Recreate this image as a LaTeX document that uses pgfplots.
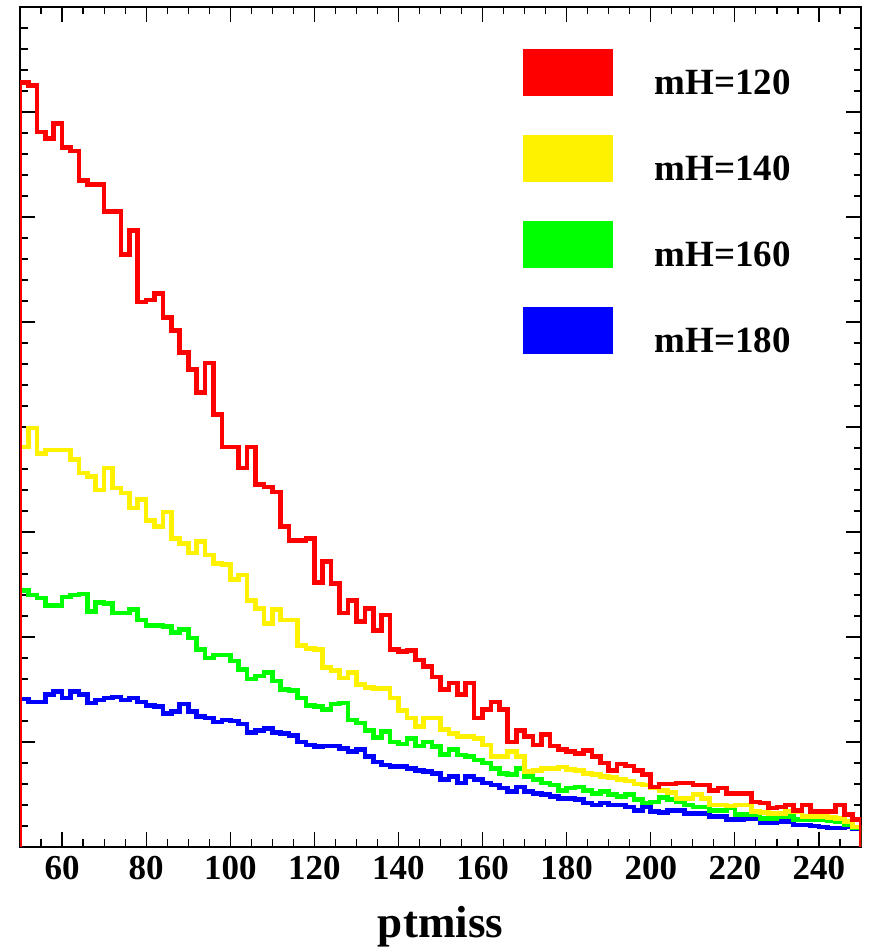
\documentclass[border=0pt]{standalone}
\usepackage{fontspec}
\setmainfont{Liberation Serif}
\usepackage{pgfplots}
\usepackage{pgfplotstable}
\pgfplotsset{compat=1.18}

\pgfplotstableread{
x red yel grn blu
50 0 0 0 0
50 7.28 3.81 2.44 1.41
52 7.25 3.99 2.40 1.38
54 6.81 3.75 2.37 1.38
56 6.75 3.78 2.30 1.45
58 6.89 3.78 2.30 1.48
60 6.66 3.78 2.38 1.42
62 6.63 3.69 2.40 1.48
64 6.35 3.56 2.41 1.45
66 6.31 3.53 2.24 1.37
68 6.31 3.40 2.33 1.40
70 6.05 3.61 2.32 1.42
72 6.05 3.42 2.23 1.43
74 5.64 3.37 2.23 1.40
76 5.87 3.23 2.26 1.42
78 5.19 3.31 2.16 1.38
80 5.21 3.11 2.11 1.35
82 5.27 3.05 2.11 1.34
84 5.04 3.19 2.10 1.27
86 4.92 2.94 2.04 1.29
88 4.71 2.89 2.07 1.36
90 4.55 2.80 1.99 1.29
92 4.33 2.91 1.88 1.24
94 4.61 2.78 1.80 1.23
96 4.12 2.70 1.83 1.19
98 3.81 2.69 1.83 1.21
100 3.81 2.55 1.77 1.20
102 3.61 2.59 1.69 1.17
104 3.81 2.35 1.60 1.09
106 3.45 2.27 1.63 1.11
108 3.43 2.13 1.66 1.13
110 3.38 2.26 1.58 1.09
112 3.05 2.16 1.50 1.08
114 2.92 2.16 1.49 1.06
116 2.92 1.92 1.42 1.00
118 2.94 1.89 1.35 0.97
120 2.52 1.88 1.34 0.955
122 2.72 1.71 1.31 0.96
124 2.51 1.68 1.36 0.96
126 2.23 1.61 1.37 0.94
128 2.35 1.66 1.21 0.91
130 2.15 1.55 1.18 0.93
132 2.27 1.52 1.11 0.86
134 2.06 1.51 1.04 0.81
136 2.21 1.51 1.10 0.78
138 1.88 1.42 1.00 0.765
140 1.86 1.30 0.98 0.765
142 1.87 1.23 1.035 0.75
144 1.78 1.15 0.96 0.73
146 1.72 1.23 1.00 0.72
148 1.62 1.23 0.955 0.70
150 1.50 1.12 0.88 0.64
152 1.56 1.08 0.93 0.67
154 1.45 1.05 0.876 0.61
156 1.56 1.05 0.86 0.67
158 1.23 1.035 0.83 0.64
160 1.31 0.97 0.80 0.61
162 1.38 0.86 0.75 0.59
164 1.31 0.86 0.70 0.56
166 1.00 0.91 0.69 0.53
168 1.11 0.86 0.75 0.57
170 1.05 0.72 0.67 0.53
172 0.97 0.73 0.64 0.51
174 1.07 0.75 0.61 0.50
176 0.96 0.75 0.59 0.48
178 0.93 0.76 0.54 0.46
180 0.91 0.74 0.56 0.46
182 0.89 0.73 0.57 0.45
184 0.92 0.70 0.54 0.42
186 0.86 0.69 0.51 0.40
188 0.80 0.67 0.53 0.42
190 0.73 0.66 0.50 0.40
192 0.79 0.64 0.48 0.40
194 0.77 0.63 0.50 0.38
196 0.73 0.60 0.45 0.35
198 0.69 0.59 0.42 0.38
200 0.57 0.56 0.43 0.34
202 0.60 0.54 0.47 0.33
204 0.60 0.52 0.45 0.35
206 0.61 0.46 0.43 0.35
208 0.61 0.46 0.40 0.32
210 0.59 0.50 0.38 0.32
212 0.59 0.46 0.38 0.32
214 0.54 0.40 0.35 0.29
216 0.56 0.40 0.35 0.29
218 0.51 0.39 0.37 0.26
220 0.51 0.40 0.31 0.26
222 0.51 0.40 0.31 0.27
224 0.43 0.34 0.31 0.27
226 0.42 0.33 0.27 0.23
228 0.37 0.32 0.27 0.23
230 0.38 0.32 0.29 0.24
232 0.40 0.34 0.29 0.24
234 0.35 0.34 0.26 0.21
236 0.40 0.29 0.26 0.21
238 0.34 0.29 0.26 0.20
240 0.34 0.29 0.26 0.19
242 0.34 0.28 0.25 0.18
244 0.40 0.27 0.24 0.18
246 0.31 0.24 0.21 0.19
248 0.26 0.19 0.18 0.17
250 0 0 0 0
}\hist

\begin{document}
\begin{tikzpicture}
\begin{axis}[
  name=ax,
  scale only axis, width=420.5pt, height=420pt,
  xmin=50, xmax=250, ymin=0, ymax=8,
  xtick={60,80,...,240},
  minor xtick={50,55,...,250},
  ytick={0,1,...,8}, yticklabels={},
  minor ytick={0,0.2,...,8},
  tick align=inside,
  major tick length=7.5pt, minor tick length=3.75pt,
  tick style={line width=0.6pt, black},
  axis line style={line width=1pt},
  /pgf/number format/assume math mode=true,
  xticklabel style={font=\bfseries\fontsize{17.5}{20}\selectfont, yshift=-1pt},
  xlabel={ptmiss},
  xlabel style={font=\bfseries\fontsize{22.5}{27}\selectfont, at={(axis description cs:0.5,0)}, anchor=base, yshift=-45pt},
  legend style={draw=none, fill=none, at={(0.598,0.95)}, anchor=north west,
    inner sep=0pt, outer sep=0pt, row sep=19pt, column sep=21pt,
    font=\bfseries\fontsize{18.5}{22}\selectfont,
    nodes={inner sep=0pt, outer sep=0pt}},
  legend cell align=left,
  reverse legend,
  legend image code/.code={\fill[#1] (0pt,-5pt) rectangle (42.5pt,16pt);},
  every axis plot/.append style={line width=2.3pt, const plot mark left},
]
\addplot[blue, no marks] table[x=x, y=blu] {\hist};
\addlegendentry{mH=180}
\addplot[green, no marks] table[x=x, y=grn] {\hist};
\addlegendentry{mH=160}
\addplot[yellow, no marks] table[x=x, y=yel] {\hist};
\addlegendentry{mH=140}
\addplot[red, no marks] table[x=x, y=red] {\hist};
\addlegendentry{mH=120}
\end{axis}
\pgfresetboundingbox
\path[use as bounding box] ([shift={(-10pt,-50.5pt)}]ax.south west) rectangle ([shift={(3.5pt,3.5pt)}]ax.north east);
\end{tikzpicture}
\end{document}
